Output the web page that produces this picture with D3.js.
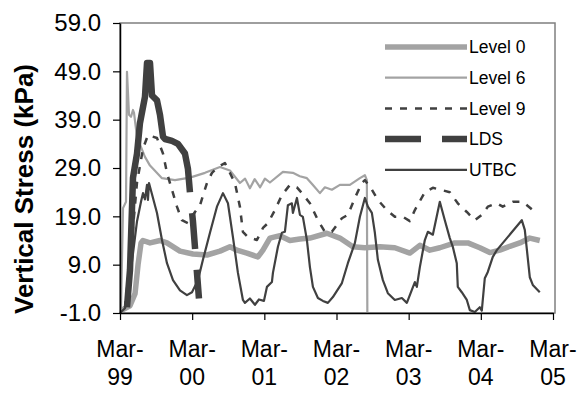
<!DOCTYPE html>
<html>
<head>
<meta charset="utf-8">
<script src="https://cdn.jsdelivr.net/npm/d3@7"></script>
<style>
  body { margin: 0; background: #fff; }
  text { font-family: "Liberation Sans", Arial, sans-serif; fill: #000; }
</style>
</head>
<body>
<svg id="chart" width="584" height="396"></svg>
<script>
// x values are months counted from Mar-1999
var xTickMonths = [0, 12, 24, 36, 48, 60, 72];
var xTickLabels = ['Mar-99', 'Mar-00', 'Mar-01', 'Mar-02', 'Mar-03', 'Mar-04', 'Mar-05'];
var yTicks = [-1, 9, 19, 29, 39, 49, 59];

var level0 = [[0.17, -0.5], [1.66, 0.5], [2.5, 3], [3.0, 9], [3.5, 13.5], [3.82, 14], [4.99, 13.5],
  [6.65, 14], [7.81, 13.5], [9.97, 11.8], [12.13, 11.2], [14.46, 11], [16.62, 11.8], [18.28, 12.7],
  [19.44, 12], [21.1, 11.4], [22.93, 10.6], [23.77, 12], [24.93, 14.5], [26.6, 15], [28.25, 14],
  [29.9, 14.3], [31.58, 14.5], [34.4, 15.5], [36.56, 14.5], [38.72, 12.7], [40.7, 12.5],
  [43.21, 12.7], [45.7, 12.5], [48.2, 11.4], [49.86, 13], [51.52, 12], [53.18, 12.5], [55.67, 13.5],
  [57.84, 13.5], [59.83, 12.5], [61.5, 11.5], [63.15, 12], [64.82, 12.8], [66.48, 13.5],
  [68.14, 14.5], [69.8, 14]];

var level6 = [[0.17, 0], [0.5, 20.7], [1.0, 22], [1.16, 48.9], [1.5, 40], [1.83, 39.6], [2.16, 41],
  [2.33, 40.4], [2.83, 35.4], [4.15, 31.3], [4.99, 29.5], [6.98, 26.9], [9.14, 26.5], [11.63, 27],
  [14.13, 28], [16.62, 29.2], [18.28, 28.5], [19.94, 25.9], [20.8, 26.8], [21.6, 24.8],
  [22.4, 26.7], [23.3, 25], [24.1, 26.8], [24.93, 26], [27.09, 28.2], [28.75, 28], [29.9, 27.3],
  [31.08, 26.9], [32.08, 25.5], [33.24, 23.8], [34.07, 25], [35.23, 24.5], [36.56, 25.5],
  [38.22, 25.5], [39.89, 26.9], [40.72, 27.5], [41.05, 26.5], [41.13, -1]];

var level9 = [[0.83, 0], [1.83, 12], [2.83, 26], [3.82, 33], [4.65, 35.8], [6.15, 35.2], [7.15, 32],
  [7.81, 28], [8.64, 24.5], [9.47, 21], [10.3, 18.2], [11.3, 17.6], [12.46, 19.9], [13.3, 21.3],
  [14.46, 25.9], [15.29, 28], [16.29, 29.2], [17.45, 30], [18.28, 28], [19.11, 25.9], [19.94, 21],
  [20.44, 15.8], [21.27, 14.7], [22.77, 14.1], [23.77, 16.6], [24.6, 17.6], [25.76, 20.3],
  [26.92, 23.4], [28.25, 25.5], [29.42, 25], [30.25, 23.8], [31.58, 21.7], [32.91, 18.2],
  [34.07, 15.8], [35.23, 15.8], [36.9, 18.6], [37.89, 19.3], [39.06, 22.8], [40.22, 25.9],
  [40.72, 26.5], [41.88, 24.5], [42.88, 22.4], [44.37, 20.3], [45.7, 18.9], [47.03, 18.9],
  [48.2, 18], [49.03, 20.3], [50.69, 24], [52.02, 24.9], [54.84, 24], [56.17, 21.7], [57.67, 19.9],
  [59.0, 18.2], [60.16, 19.3], [61.16, 21], [62.66, 21.7], [63.65, 21], [65.31, 22], [66.98, 22],
  [68.64, 20.3]];

var lds = [[1.16, 0.2], [1.66, 7.9], [2.16, 27], [2.83, 32], [3.32, 38.3], [4.15, 43.7], [4.49, 50.7],
  [4.99, 50.7], [5.32, 44], [6.15, 43], [6.65, 40], [7.15, 35.5], [7.48, 35], [8.64, 34.6],
  [9.64, 34], [10.8, 32], [11.3, 28.8], [11.63, 24], [12.13, 18], [12.63, 10], [13.13, 2]];
var ldsSolidUntil = 11.63; // the early part of the LDS record reads as one unbroken stroke

var utbc = [[0, -1], [0.83, 0], [1.83, 8], [2.83, 18], [3.49, 22], [3.82, 23.8], [4.15, 22.5],
  [4.49, 25.5], [4.65, 22.4], [4.82, 25.9], [6.15, 19.7], [6.98, 14.1], [7.81, 9.3], [8.81, 5.8],
  [9.97, 3.7], [11.13, 2.7], [11.97, 3.3], [12.96, 5.8], [13.79, 10], [14.96, 15.6], [16.12, 21],
  [17.12, 23.8], [17.95, 21.7], [18.78, 14.7], [19.61, 7.3], [20.44, 1.7], [20.77, 1.1], [21.6, 2],
  [22.44, 0.7], [23.1, 1.8], [23.93, 1.5], [24.43, 4.4], [25.26, 5.4], [25.43, 7.3], [26.26, 12.7],
  [26.92, 15.6], [27.42, 15.8], [27.92, 21.3], [28.58, 21.7], [28.75, 19.7], [29.42, 22.8],
  [29.92, 19.3], [30.41, 18.9], [31.08, 14.1], [31.58, 8.5], [32.08, 4.4], [32.91, 2.1],
  [33.74, 1.5], [34.57, 1.1], [35.4, 2.3], [36.9, 5.2], [37.89, 9.3], [39.06, 13.5], [39.89, 18.9],
  [40.72, 22.8], [41.22, 21], [41.88, 19.7], [42.38, 15.6], [42.88, 10], [43.71, 5.8], [44.54, 3.1],
  [45.7, 1.7], [46.87, 2.1], [47.7, 1.1], [48.53, 3.8], [49.03, 5.4], [49.36, 4.4], [49.86, 8.5],
  [50.69, 14.1], [51.19, 15.8], [52.02, 15.2], [53.18, 22], [54.01, 18.2], [54.84, 14.5],
  [55.34, 12.7], [56.0, 9.3], [56.17, 4.4], [56.83, 3.3], [57.67, 1.7], [58.17, -0.4], [59.0, -0.8],
  [59.83, 0.2], [60.16, -0.5], [60.66, 6.2], [61.16, 7.5], [61.99, 10.6], [62.66, 12],
  [66.81, 18.2], [67.31, 16.2], [68.14, 6.4], [68.64, 4.8], [69.8, 3.3]];

var seriesNames = ['Level 0', 'Level 6', 'Level 9', 'LDS', 'UTBC'];
var seriesData = [level0, level6, level9, lds, utbc];
var seriesStyle = [
  { color: '#a3a3a3', width: 5.5, dash: null },
  { color: '#a3a3a3', width: 2.2, dash: null },
  { color: '#404040', width: 2.5, dash: '7,8' },
  { color: '#404040', width: 6.5, dash: '36,21' },
  { color: '#404040', width: 2.2, dash: null }
];

const svg = d3.select('#chart');

const x = d3.scaleLinear().domain([0, 72]).range([120, 553]);
const y = d3.scaleLinear().domain([-1, 59]).range([313, 23]);

// plot frame (top / right)
svg.append('rect')
  .attr('x', x(0))
  .attr('y', y(59))
  .attr('width', x(72) + 2 - x(0))
  .attr('height', y(-1) - y(59))
  .style('fill', 'none')
  .style('stroke', '#7f7f7f')
  .style('stroke-width', 1.5);

var line = d3.line()
  .x(d => x(d[0]))
  .y(d => y(d[1]));

var lines = svg.append('g').classed('series', true);

seriesData.forEach((data, i) => {
  var st = seriesStyle[i];
  var p = lines.append('path')
    .datum(data)
    .attr('d', line)
    .style('fill', 'none')
    .style('stroke', st.color)
    .style('stroke-width', st.width)
    .style('stroke-linejoin', 'round')
    .style('stroke-dasharray', st.dash);

  if (seriesNames[i] === 'LDS') {
    // solid run first, then the dashes
    var tmp = svg.append('path')
      .attr('d', line(data.filter(d => d[0] <= ldsSolidUntil)));
    var solidLen = tmp.node().getTotalLength();
    tmp.remove();
    p.style('stroke-dasharray', solidLen + ',21,' + st.dash);
  }
});

// y axis
var yAxis = svg.append('g')
  .attr('transform', 'translate(' + x(0) + ',0)')
  .call(d3.axisLeft(y)
    .tickValues(yTicks)
    .tickSize(7)
    .tickSizeOuter(0)
    .tickPadding(12)
    .tickFormat(d => d.toFixed(1)));
yAxis.select('.domain').style('stroke', '#000').style('stroke-width', 1.5);
yAxis.selectAll('.tick line').style('stroke', '#000').style('stroke-width', 1.2);
yAxis.selectAll('.tick text')
  .attr('font-size', 24)
  .style('font-family', '"Liberation Sans", Arial, sans-serif')
  .style('fill', '#000');

// x axis
var xAxis = svg.append('g')
  .attr('transform', 'translate(0,' + y(-1) + ')')
  .call(d3.axisBottom(x)
    .tickValues(xTickMonths)
    .tickSize(7)
    .tickSizeOuter(0)
    .tickFormat(''));
xAxis.select('.domain').style('stroke', '#000').style('stroke-width', 1.5);
xAxis.selectAll('.tick line').style('stroke', '#000').style('stroke-width', 1.2);

var xLabels = svg.append('g')
  .selectAll('text')
  .data(xTickMonths)
  .enter()
    .append('text')
    .attr('font-size', 23)
    .attr('text-anchor', 'middle');
xLabels.append('tspan')
  .attr('x', d => x(d))
  .attr('y', 357)
  .text((d, i) => xTickLabels[i].split('-')[0] + '-');
xLabels.append('tspan')
  .attr('x', d => x(d))
  .attr('y', 385)
  .text((d, i) => xTickLabels[i].split('-')[1]);

// y title
svg.append('text')
  .attr('transform', 'translate(33,189) rotate(-90)')
  .attr('text-anchor', 'middle')
  .attr('font-size', 26)
  .attr('font-weight', 'bold')
  .text('Vertical Stress (kPa)');

// legend
var legend = svg.append('g')
  .selectAll('g')
  .data(seriesNames)
  .enter()
    .append('g')
    .attr('transform', (d, i) => 'translate(385,' + (47 + i * 30.7) + ')');
legend.append('line')
  .attr('x1', 0)
  .attr('x2', 82)
  .style('stroke', (d, i) => seriesStyle[i].color)
  .style('stroke-width', (d, i) => seriesStyle[i].width)
  .style('stroke-dasharray', (d, i) => seriesStyle[i].dash);
legend.append('text')
  .attr('x', 84)
  .attr('dy', '0.36em')
  .attr('font-size', 17.5)
  .text(d => d);
</script>
</body>
</html>
